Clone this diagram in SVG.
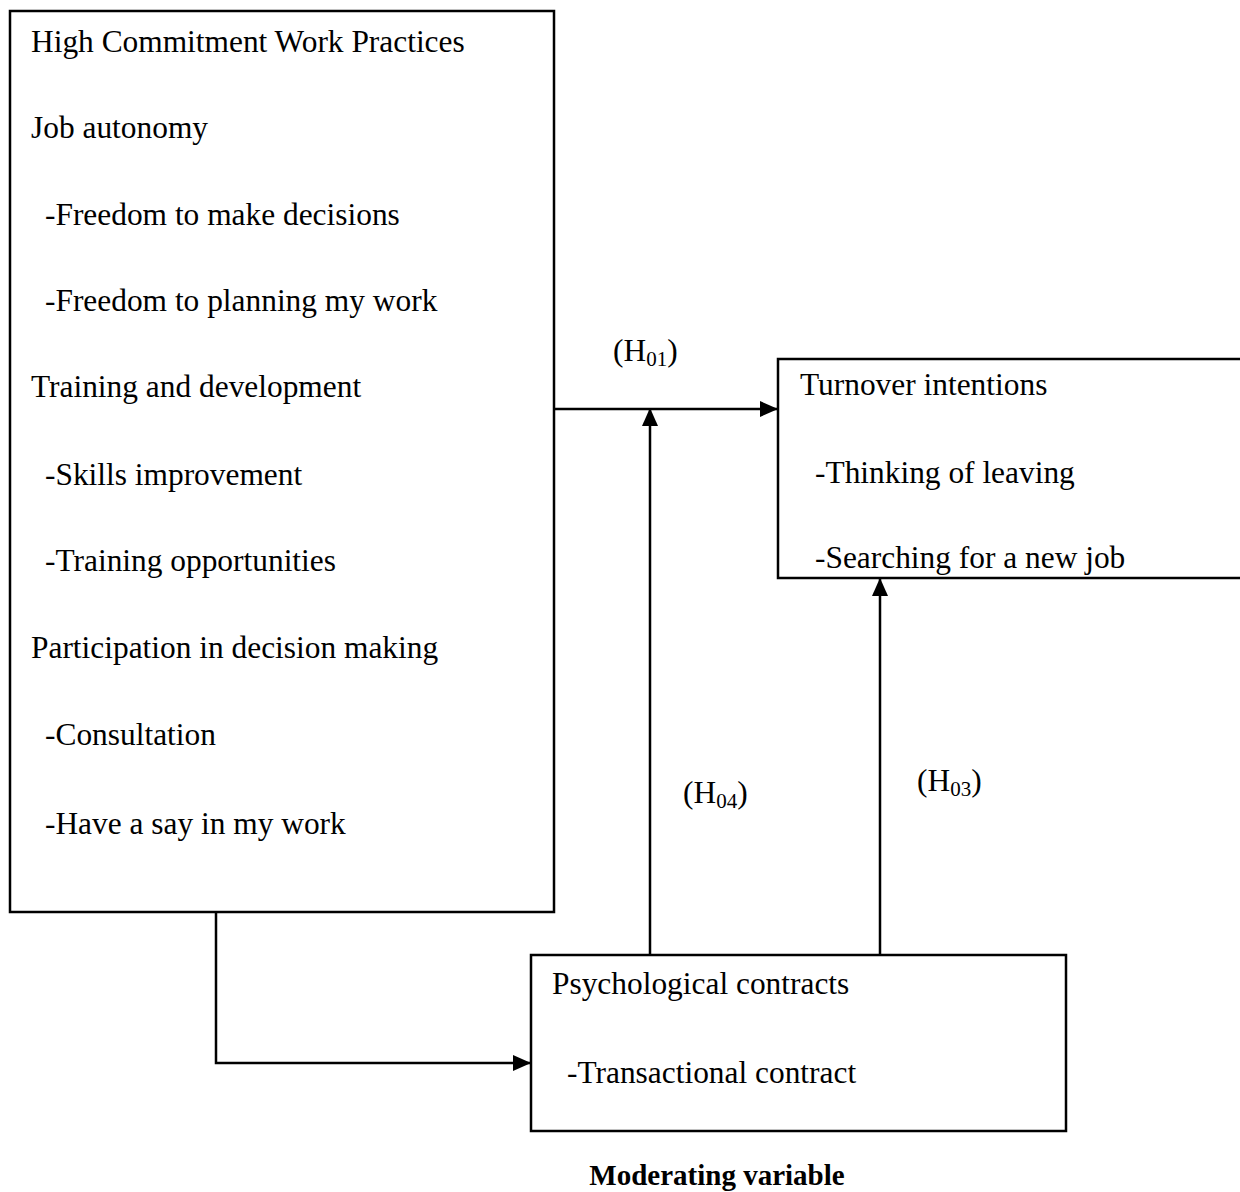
<svg xmlns="http://www.w3.org/2000/svg" width="1240" height="1192" viewBox="0 0 1240 1192">
<style>
.box{fill:#fff;stroke:#000;stroke-width:2.5}
text{font-family:"Liberation Serif","Times New Roman",serif;font-size:31.4px;fill:#000}
.sub{font-size:21px}
.bold{font-weight:bold;font-size:29px}
.conn{fill:none;stroke:#000;stroke-width:2.5}
</style>
<defs>
<marker id="ahb" markerWidth="18" markerHeight="16" refX="17" refY="8" orient="auto" markerUnits="userSpaceOnUse" viewBox="0 0 18 16">
<path d="M0,0 L18,8 L0,16 z" fill="#000"/>
</marker>
</defs>
<rect width="1240" height="1192" fill="#fff"/>
<g id="hcwp">
<rect class="box" x="10" y="11" width="544" height="901"/>
<text x="31" y="52">High Commitment Work Practices</text>
<text x="31" y="138">Job autonomy</text>
<text x="45" y="225">-Freedom to make decisions</text>
<text x="45" y="311">-Freedom to planning my work</text>
<text x="31" y="397">Training and development</text>
<text x="45" y="485">-Skills improvement</text>
<text x="45" y="571">-Training opportunities</text>
<text x="31" y="658">Participation in decision making</text>
<text x="45" y="745">-Consultation</text>
<text x="45" y="834">-Have a say in my work</text>
</g>
<g id="turnover">
<rect class="box" x="778" y="359" width="470" height="219"/>
<text x="800" y="395">Turnover intentions</text>
<text x="815" y="483">-Thinking of leaving</text>
<text x="815" y="568">-Searching for a new job</text>
</g>
<g id="psych">
<rect class="box" x="531" y="955" width="535" height="176"/>
<text x="552" y="994">Psychological contracts</text>
<text x="567" y="1083">-Transactional contract</text>
</g>
<g id="connectors">
<path class="conn" d="M554,409 H777" marker-end="url(#ahb)"/>
<path class="conn" d="M650,955 V409" marker-end="url(#ahb)"/>
<path class="conn" d="M880,955 V579" marker-end="url(#ahb)"/>
<path class="conn" d="M216,912 V1063 H530" marker-end="url(#ahb)"/>
</g>
<g id="labels">
<text x="613" y="361">(H<tspan class="sub" dy="5">01</tspan><tspan dy="-5">)</tspan></text>
<text x="683" y="803">(H<tspan class="sub" dy="5">04</tspan><tspan dy="-5">)</tspan></text>
<text x="917" y="791">(H<tspan class="sub" dy="5">03</tspan><tspan dy="-5">)</tspan></text>
<text class="bold" x="717" y="1185" text-anchor="middle">Moderating variable</text>
</g>
</svg>
